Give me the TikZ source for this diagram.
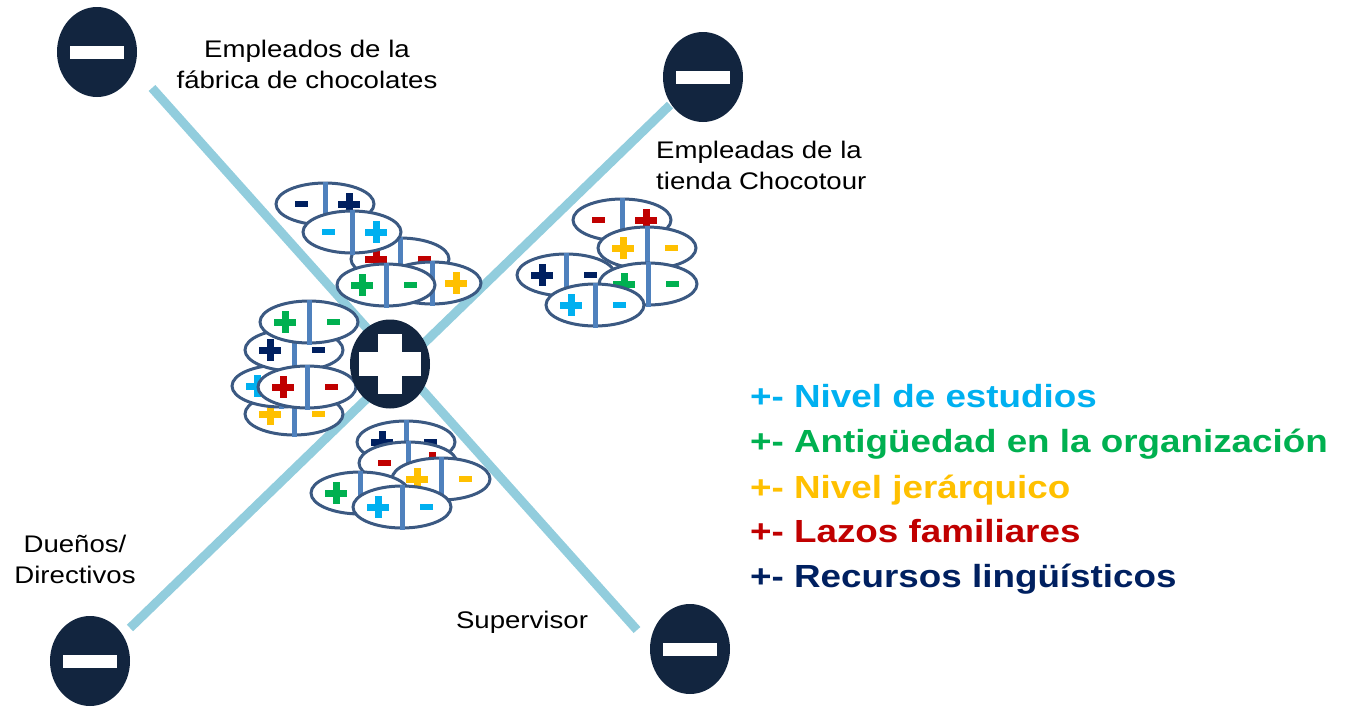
\documentclass[tikz,border=0pt]{standalone}
\usepackage{fontspec}
\setmainfont{Liberation Sans}[FakeStretch=1.15]
\usetikzlibrary{shapes.geometric}

\definecolor{ejeazul}{RGB}{146,205,221}
\definecolor{marino}{RGB}{18,37,63}
\definecolor{borde}{RGB}{59,89,130}
\definecolor{barra}{RGB}{79,129,189}
\definecolor{estudios}{RGB}{0,176,240}
\definecolor{antiguedad}{RGB}{0,176,80}
\definecolor{jerarquia}{RGB}{255,192,0}
\definecolor{lazos}{RGB}{192,0,0}
\definecolor{recursos}{RGB}{0,32,96}

% signos dentro de las fichas
\newcommand{\signop}[2]{%
  \fill[#1] ([shift={(-11pt,-3.5pt)}]#2) rectangle ([shift={(11pt,3.5pt)}]#2);
  \fill[#1] ([shift={(-3.5pt,-11pt)}]#2) rectangle ([shift={(3.5pt,11pt)}]#2);}
\newcommand{\signom}[2]{%
  \fill[#1] ([shift={(-6.5pt,-3pt)}]#2) rectangle ([shift={(6.5pt,3pt)}]#2);}
% ficha: nombre, x, y, color, signo izq., signo der.
\newcommand{\ficha}[6]{%
  \node[fichaoval] (#1) at (#2,#3) {};
  \draw[fichabarra] (#1.north) -- (#1.south);
  \coordinate (#1i) at ([xshift=-24pt]#1.center);
  \coordinate (#1d) at ([xshift=24pt]#1.center);
  \csname signo#5\endcsname{#4}{#1i}
  \csname signo#6\endcsname{#4}{#1d}}

\begin{document}
\begin{tikzpicture}[
		x=1pt, y=-1pt,
		eje/.style={ejeazul, line width=9pt},
		fichaoval/.style={ellipse, draw=borde, line width=3pt, fill=white, minimum width=98pt, minimum height=42pt, inner sep=0pt},
		fichabarra/.style={barra, line width=5pt},
		menos/.style={ellipse, fill=marino, minimum width=80pt, minimum height=90pt, inner sep=0pt,
			path picture={\fill[white] ([shift={(-27pt,-6.5pt)}]path picture bounding box.center) rectangle ([shift={(27pt,6.5pt)}]path picture bounding box.center);}},
		mas/.style={ellipse, fill=marino, minimum width=80pt, minimum height=89pt, inner sep=0pt,
			path picture={\fill[white] ([shift={(-31pt,-12pt)}]path picture bounding box.center) rectangle ([shift={(31pt,12pt)}]path picture bounding box.center);
				\fill[white] ([shift={(-12pt,-30pt)}]path picture bounding box.center) rectangle ([shift={(12pt,30pt)}]path picture bounding box.center);}},
		etiqueta/.style={inner sep=0pt, font=\fontsize{24}{31}\selectfont},
		leyenda/.style={anchor=base west, inner sep=0pt, font=\fontsize{32}{38}\selectfont\bfseries},
		]
		\useasboundingbox (0,0) rectangle (1345,712);
		% ejes
		\coordinate (fabIni) at (152,88);
		\coordinate (superFin) at (637,630);
		\coordinate (duenosIni) at (130,628);
		\coordinate (tiendaFin) at (670,105);
		\path[eje] (fabIni) edge (superFin);
		\path[eje] (duenosIni) edge (tiendaFin);
		% fichas arriba
		\ficha{a1}{325}{204}{recursos}{m}{p}
		\ficha{a3}{400}{259}{lazos}{p}{m}
		\ficha{a2}{352}{232}{estudios}{m}{p}
		\ficha{a5}{432}{283}{jerarquia}{m}{p}
		\ficha{a4}{386}{285}{antiguedad}{p}{m}
		% fichas derecha
		\ficha{b1}{622}{220}{lazos}{m}{p}
		\ficha{b2}{647}{248}{jerarquia}{p}{m}
		\ficha{b3}{566}{275}{recursos}{p}{m}
		\ficha{b4}{648}{284}{antiguedad}{p}{m}
		\ficha{b5}{595}{305}{estudios}{p}{m}
		% fichas izquierda
		\ficha{c5}{294}{414}{jerarquia}{p}{m}
		\ficha{c3}{281}{386}{estudios}{p}{m}
		\ficha{c2}{294}{350}{recursos}{p}{m}
		\ficha{c1}{309}{322}{antiguedad}{p}{m}
		\ficha{c4}{307}{387}{lazos}{p}{m}
		% fichas abajo
		\ficha{d1}{406}{442}{recursos}{p}{m}
		\ficha{d2}{408}{463}{lazos}{m}{p}
		\ficha{d3}{441}{479}{jerarquia}{p}{m}
		\ficha{d4}{360}{493}{antiguedad}{p}{m}
		\ficha{d5}{402}{507}{estudios}{p}{m}
		% signos grandes
		\node[mas] (masCentro) at (390,364) {};
		\node[menos] (menosFab) at (97,52) {};
		\node[menos] (menosTienda) at (703,77) {};
		\node[menos] (menosDuenos) at (90,661) {};
		\node[menos] (menosSuper) at (690,649) {};
		% etiquetas
		\node[etiqueta, align=center] (fab) at (307,64) {Empleados de la\\fábrica de chocolates};
		\node[etiqueta, align=left, anchor=west] (tienda) at (656,165) {Empleadas de la\\tienda Chocotour};
		\node[etiqueta, align=center] (duenos) at (75,559) {Dueños/\\Directivos};
		\node[etiqueta, anchor=base] (super) at (522,628) {Supervisor};
		% leyenda
		\node[leyenda, estudios] (leyEstudios) at (750,407) {+- Nivel de estudios};
		\node[leyenda, antiguedad] (leyAntiguedad) at (750,452) {+- Antigüedad en la organización};
		\node[leyenda, jerarquia] (leyJerarquia) at (750,498) {+- Nivel jerárquico};
		\node[leyenda, lazos] (leyLazos) at (750,542) {+- Lazos familiares};
		\node[leyenda, recursos] (leyRecursos) at (750,587) {+- Recursos lingüísticos};
	\end{tikzpicture}
\end{document}
